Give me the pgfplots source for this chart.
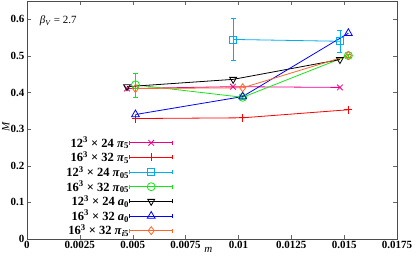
\documentclass[border=0pt]{standalone}
\usepackage{pgfplots}
\pgfplotsset{compat=1.18}
\usepackage{fontspec}
\setmainfont{Liberation Serif}
\definecolor{myorange}{RGB}{255,100,40}
\definecolor{mygreen}{RGB}{20,230,20}
\begin{document}
\begin{tikzpicture}
\useasboundingbox (-27pt,-21pt) rectangle (389pt,239pt);
\begin{axis}[
  at={(0,0)}, anchor=south west,
  scale only axis, width=370pt, height=238pt,
  xmin=0, xmax=0.0175, ymin=0, ymax=0.65,
  scaled x ticks=false, scaled y ticks=false,
  xtick={0,0.0025,0.005,0.0075,0.01,0.0125,0.015,0.0175},
  xticklabels={0,0.0025,0.005,0.0075,0.01,0.0125,0.015,0.0175},
  ytick={0,0.1,0.2,0.3,0.4,0.5,0.6},
  yticklabels={0,0.1,0.2,0.3,0.4,0.5,0.6},
  tick label style={font=\bfseries\fontsize{11}{13}\selectfont},
  /pgf/number format/assume math mode=true,
  tick align=inside, major tick length=4pt,
  xticklabel style={yshift=1pt},
  yticklabel style={xshift=1pt},
  axis line style={black!70, line width=0.6pt},
  tick style={black!60},
  xlabel={\textit{m}},
  xlabel style={at={(rel axis cs:0.49,0)}, anchor=north, yshift=-5pt, font=\fontsize{11}{13}\selectfont},
  ylabel={\textit{M}},
  ylabel style={at={(rel axis cs:0,0.47)}, anchor=south, yshift=14pt, font=\fontsize{11}{13}\selectfont},
  legend plot pos=right,
  legend cell align=right,
  legend style={draw=none, fill=none, at={(rel axis cs:0.395,0.008)}, anchor=south east,
    font=\bfseries\fontsize{12.5}{14}\selectfont, row sep=2.2pt, inner sep=0pt,
    nodes={inner sep=0.4pt}},
  legend image code/.code={
    \draw[#1, mark=none] (0cm,0cm) -- (1.5cm,0cm);
    \draw[#1, mark=none] (0cm,-2pt) -- (0cm,2pt) (1.5cm,-2pt) -- (1.5cm,2pt);
    \draw[#1, only marks] plot coordinates {(0.75cm,0cm)};
  },
  every axis plot/.append style={line width=0.8pt},
  error bars/error bar style={line width=0.8pt},
  error bars/error mark options={rotate=90, mark size=2.5pt},
  clip=false,
]
\addplot[magenta, mark=x, mark size=4pt] coordinates {(0.00473,0.411) (0.00974,0.416) (0.0148,0.414)};
\addlegendentry{12\textsuperscript{3} × 24 \textit{π}\textsubscript{5}}
\addplot[red, mark=+, mark size=4pt] coordinates {(0.00515,0.329) (0.0102,0.331) (0.0152,0.353)};
\addlegendentry{16\textsuperscript{3} × 32 \textit{π}\textsubscript{5}}
\addplot[cyan, mark=square, mark size=3.5pt, error bars/.cd, y dir=both, y explicit] coordinates {(0.00975,0.545) +- (0,0.058) (0.0148,0.540) +- (0,0.030)};
\addlegendentry{12\textsuperscript{3} × 24 \textit{π}\textsubscript{05}}
\addplot[mygreen, mark=o, mark size=4pt, error bars/.cd, y dir=both, y explicit] coordinates {(0.00513,0.421) +- (0,0.033) (0.0102,0.387) +- (0,0.005) (0.0152,0.501) +- (0,0.005)};
\addlegendentry{16\textsuperscript{3} × 32 \textit{π}\textsubscript{05}}
\addplot[black, mark=triangle, mark size=4pt, mark options={rotate=180}] coordinates {(0.00473,0.416) (0.00975,0.436) (0.0148,0.490)};
\addlegendentry{12\textsuperscript{3} × 24 \textit{a}\textsubscript{0}}
\addplot[blue, mark=triangle, mark size=4.5pt] coordinates {(0.00513,0.340) (0.0102,0.389) (0.0152,0.562)};
\addlegendentry{16\textsuperscript{3} × 32 \textit{a}\textsubscript{0}}
\addplot[myorange, mark=diamond, mark size=4pt] coordinates {(0.00513,0.411) (0.0102,0.413) (0.0152,0.501)};
\addlegendentry{16\textsuperscript{3} × 32 \textit{π}\textsubscript{\textit{i}5}}
\node[anchor=west, font=\fontsize{11}{13}\selectfont] at (rel axis cs:0.025,0.915) {\textit{β}\textsubscript{\textit{V}} = 2.7};
\end{axis}
\end{tikzpicture}
\end{document}
